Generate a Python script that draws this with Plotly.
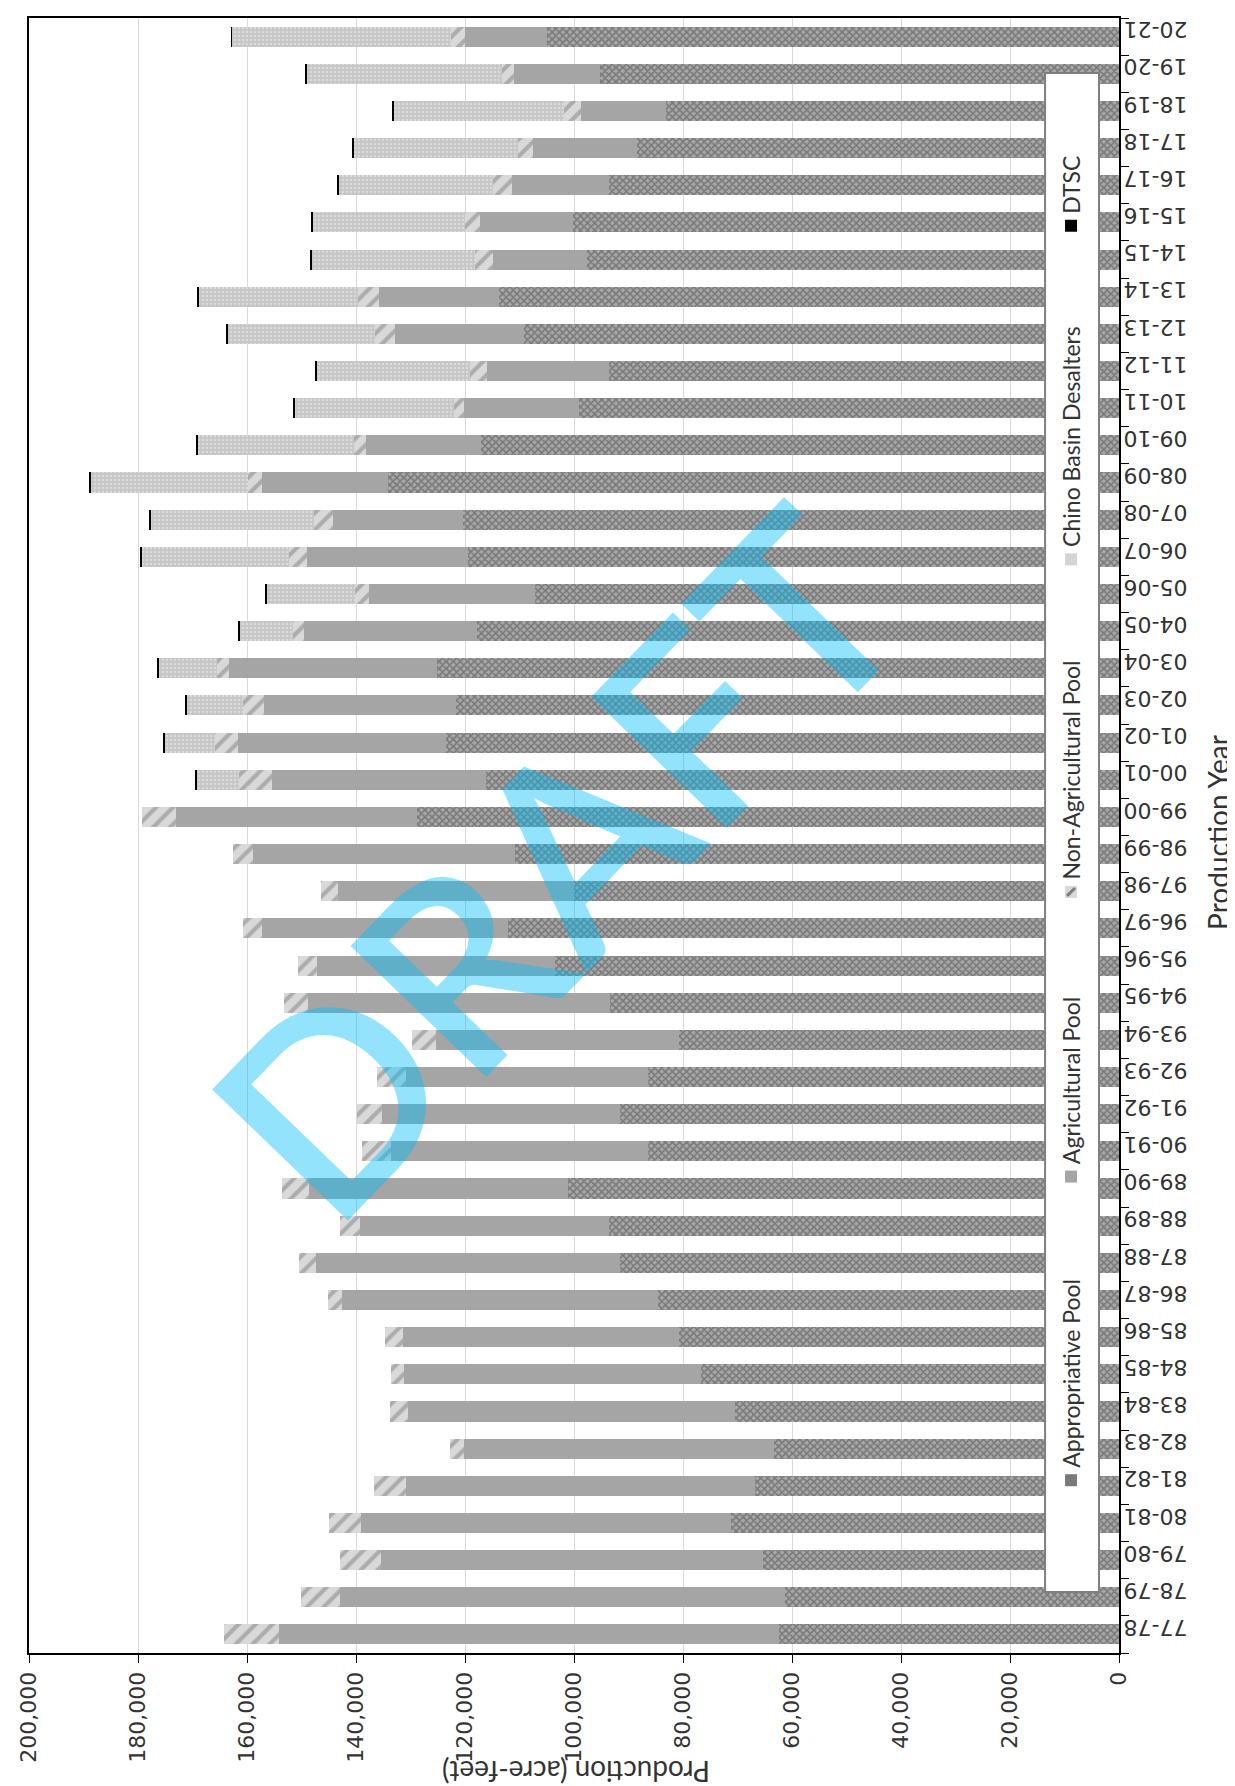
import plotly.graph_objects as go

years = ["77-78","78-79","79-80","80-81","81-82","82-83","83-84","84-85","85-86","86-87",
         "87-88","88-89","89-90","90-91","91-92","92-93","93-94","94-95","95-96","96-97",
         "97-98","98-99","99-00","00-01","01-02","02-03","03-04","04-05","05-06","06-07",
         "07-08","08-09","09-10","10-11","11-12","12-13","13-14","14-15","15-16","16-17",
         "17-18","18-19","19-20","20-21"]

appropriative = [62320,61260,65270,71250,66740,63380,70420,76730,80740,84500,
                 91470,93500,101100,86370,91520,86370,80760,93480,103490,112090,
                 99940,110880,128730,116100,123510,121640,125180,117880,107140,119380,
                 120320,134080,117150,99070,93590,109140,113800,97680,100140,93590,
                 88510,83200,95230,104880]

agricultural = [91740,81590,70140,67920,64150,56880,60070,54420,50650,58020,
                55890,45830,47550,47240,43670,44430,44620,55360,43660,45070,
                43290,47970,44340,39280,38140,35330,38150,31620,30390,29640,
                23840,23250,21040,21110,22330,23720,21940,17180,17170,17830,
                18980,15460,15780,15130]

non_agricultural = [10140,7200,7510,5730,5740,2530,3260,2370,3280,2690,
                    3020,3680,4850,5330,4670,5320,4290,4400,3470,3550,
                    3190,3740,6140,6000,4220,3740,2240,2140,2620,3280,
                    3470,2540,2200,1880,3190,3680,3830,3270,2620,3440,
                    2870,3110,2210,2620]

desalters = [0,0,0,0,0,0,0,0,0,0,
             0,0,0,0,0,0,0,0,0,0,
             0,0,0,7850,9330,10380,10730,9810,16350,27130,
             30130,28840,28690,29180,28190,27060,29270,30080,28120,28280,
             30070,31310,35810,40140]

dtsc = [0,0,0,0,0,0,0,0,0,0,
        0,0,0,0,0,0,0,0,0,0,
        0,0,0,200,200,200,200,200,200,200,
        200,200,200,200,200,200,200,200,200,200,
        200,200,200,150]

x_ticks = [0,20000,40000,60000,80000,100000,120000,140000,160000,180000,200000]

legend_names = ["Appropriative Pool","Agricultural Pool","Non-Agricultural Pool",
                "Chino Basin Desalters","DTSC"]

fig = go.Figure()
styles = [
    dict(color="#a0a0a0", pattern=dict(shape="x", fgcolor="#4a4a4a", bgcolor="#a8a8a8", size=5, solidity=0.55)),
    dict(color="#a5a5a5"),
    dict(color="#d9d9d9", pattern=dict(shape="/", fgcolor="#7f7f7f", bgcolor="#d9d9d9", size=12, solidity=0.35)),
    dict(color="#c8c8c8", pattern=dict(shape=".", fgcolor="#eeeeee", bgcolor="#c6c6c6", size=4, solidity=0.35)),
    dict(color="#000000"),
]
series = [appropriative, agricultural, non_agricultural, desalters, dtsc]
for name, vals, st in zip(legend_names, series, styles):
    fig.add_trace(go.Bar(y=years, x=vals, orientation="h", name=name,
                         marker=dict(line=dict(width=0), **st), showlegend=False))

L, R, T, B = 20, 1111, 8, 1645
W, H = 1235, 1786
pw, ph = R - L, B - T

def px(x):
    return (x - L) / pw

def py(y):
    return (B - y) / ph

fig.update_layout(
    width=W, height=H,
    margin=dict(l=L, r=W - R, t=T, b=H - B),
    barmode="stack", bargap=0.46,
    plot_bgcolor="white", paper_bgcolor="white",
    xaxis=dict(range=[200000, 0], tickvals=x_ticks, tickformat=",", tickangle=-90,
               ticks="outside", ticklen=8, tickcolor="black",
               showgrid=True, gridcolor="#d9d9d9", gridwidth=1,
               showline=True, linecolor="black", linewidth=2, mirror=True,
               tickfont=dict(family="DejaVu Sans", size=22, color="#333333"),
               zeroline=False),
    yaxis=dict(type="category", categoryorder="array", categoryarray=years,
               side="right", tickangle=180, ticks="outside", ticklen=8, tickcolor="black",
               tickson="boundaries", showgrid=False, ticklabelstandoff=62,
               showline=True, linecolor="black", linewidth=2, mirror=True,
               tickfont=dict(family="DejaVu Sans", size=22, color="#333333")),
)

# axis titles
fig.add_annotation(text="Production (acre-feet)", x=px(567), y=py(1764), xref="paper", yref="paper",
                   showarrow=False, textangle=180, xanchor="center", yanchor="middle",
                   font=dict(family="Lato", size=28, color="#333333"))
fig.add_annotation(text="Production Year", x=px(1210), y=py(823), xref="paper", yref="paper",
                   showarrow=False, textangle=-90, xanchor="center", yanchor="middle",
                   font=dict(family="Lato", size=28, color="#333333"))

# manual legend (rotated)
fig.add_shape(type="rect", xref="paper", yref="paper", x0=px(1037), x1=px(1091), y0=py(1584), y1=py(63),
              fillcolor="white", line=dict(color="#7f7f7f", width=2), layer="above")
leg_marker_y = [1472, 1168, 883, 550, 216]
leg_colors = ["#7a7a7a", "#a5a5a5", "#d9d9d9", "#d4d4d4", "#000000"]
for i, (name, my, c) in enumerate(zip(legend_names, leg_marker_y, leg_colors)):
    fig.add_shape(type="rect", xref="paper", yref="paper", x0=px(1057), x1=px(1069),
                  y0=py(my + 6), y1=py(my - 6), fillcolor=c, line=dict(width=0), layer="above")
    if i == 2:
        fig.add_shape(type="line", xref="paper", yref="paper", x0=px(1059), x1=px(1067),
                      y0=py(my + 4), y1=py(my - 4), line=dict(color="#7f7f7f", width=3), layer="above")
    fig.add_annotation(text=name, x=px(1063), y=py(my - 10), xref="paper", yref="paper",
                       showarrow=False, textangle=-90, xanchor="center", yanchor="bottom",
                       font=dict(family="Lato", size=23, color="#333333"))

# DRAFT watermark
fig.add_annotation(text="DRAFT", x=px(546), y=py(852), xref="paper", yref="paper",
                   showarrow=False, textangle=-46, xanchor="center", yanchor="middle",
                   font=dict(family="Lato", size=262, weight=600, color="rgba(0,188,248,0.42)"))

fig.write_html("out.html")
